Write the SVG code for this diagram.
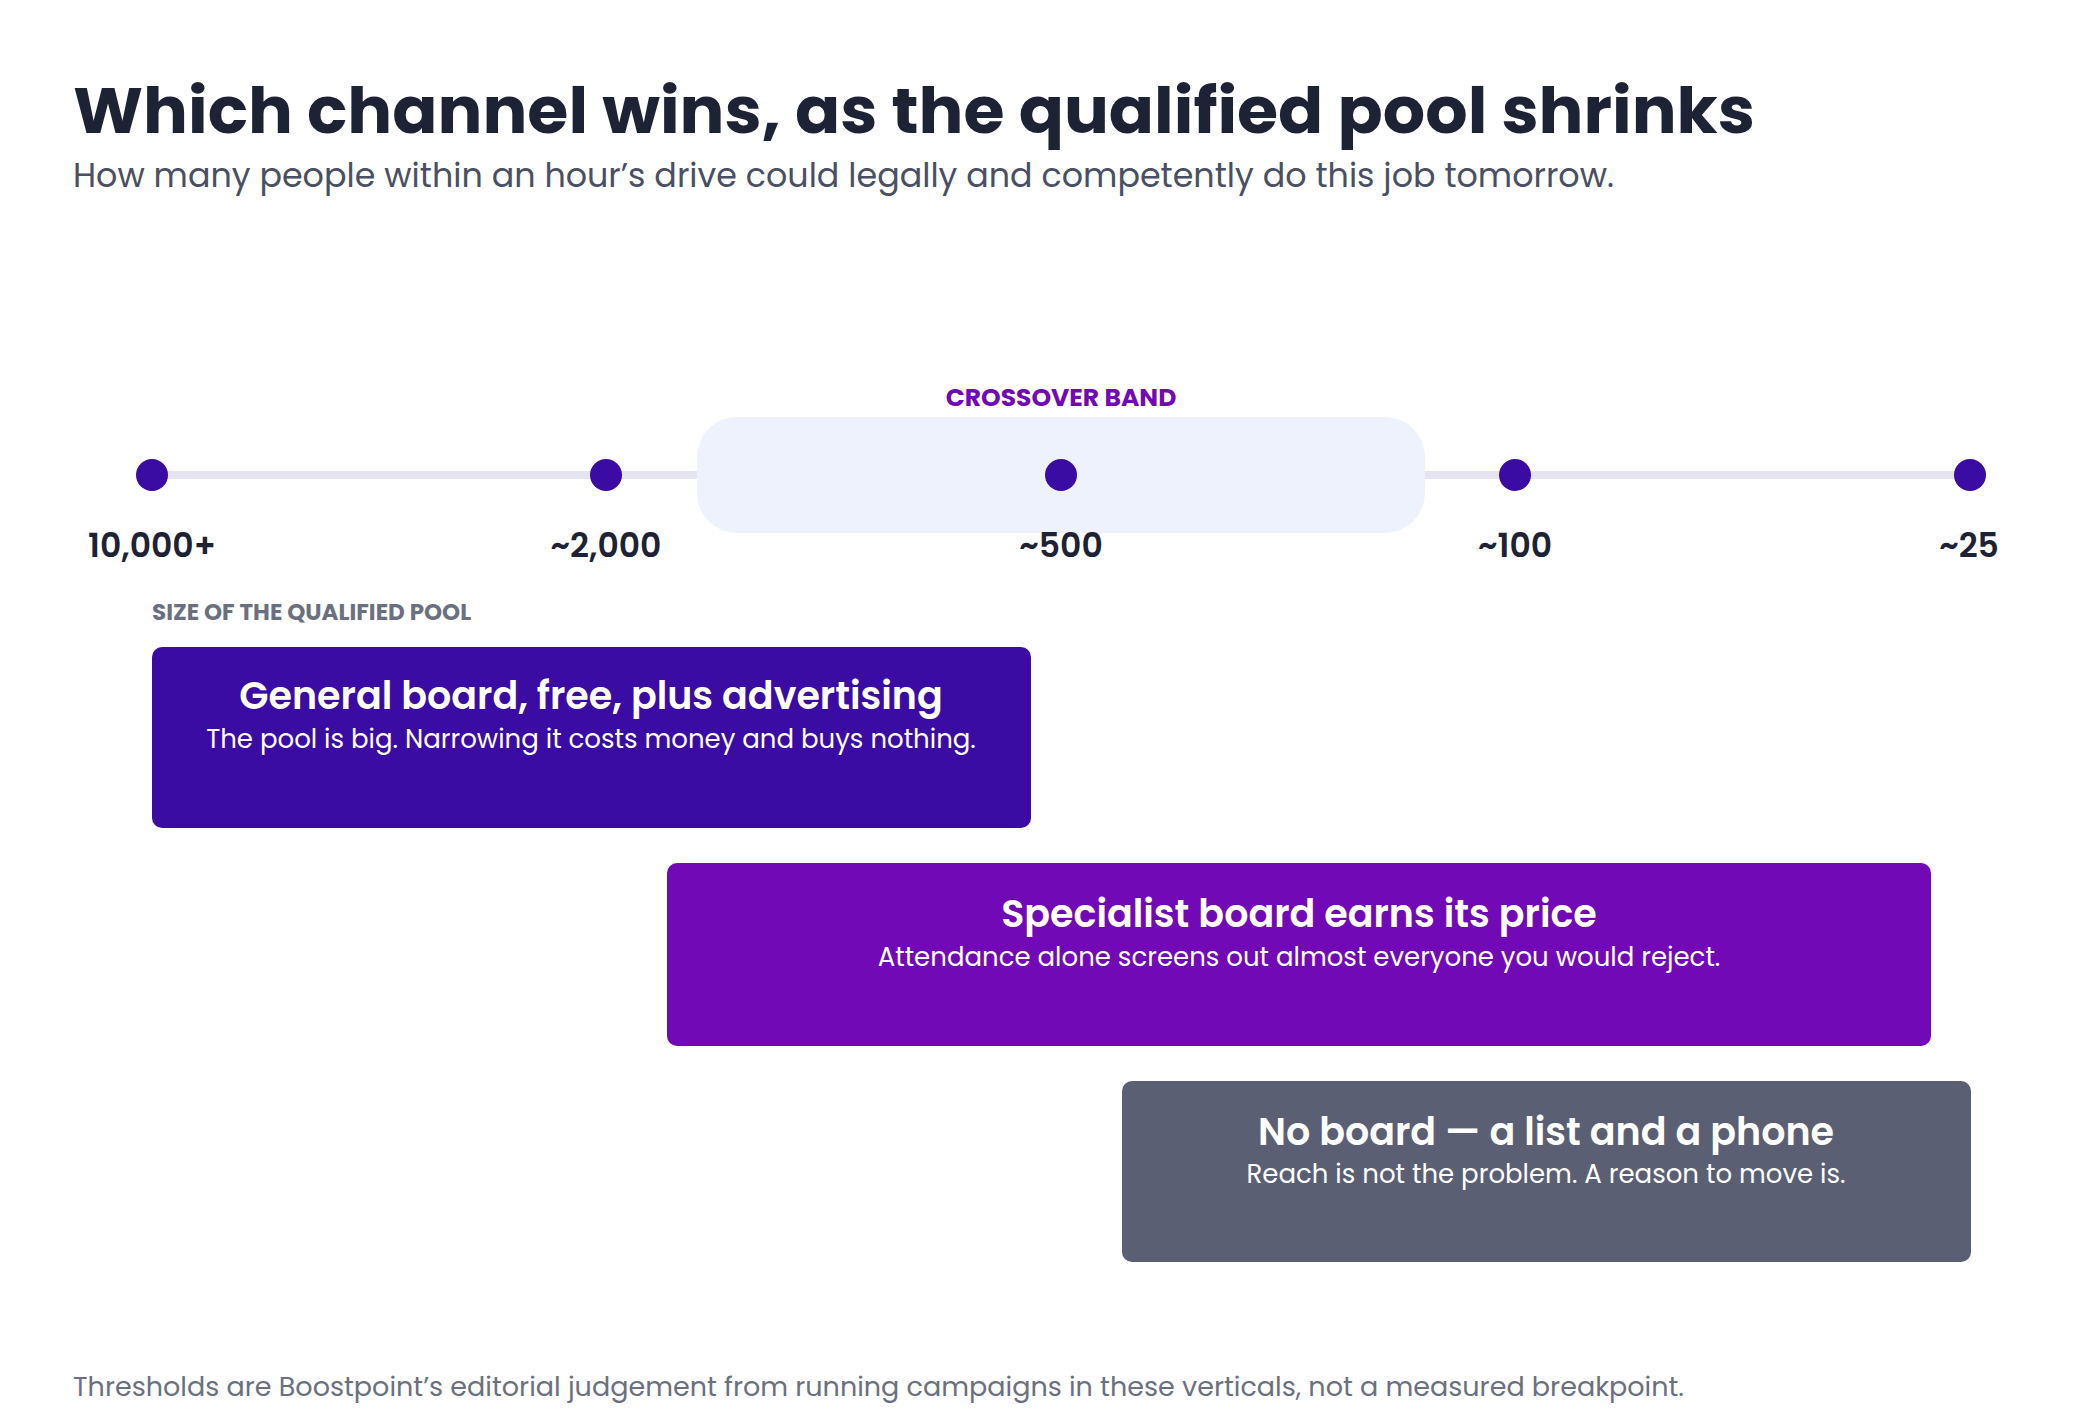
<svg xmlns="http://www.w3.org/2000/svg" width="2100" height="1420" viewBox="0 0 2100 1420">
<style>
text{font-family:Poppins,Inter,"Noto Sans",sans-serif}
.tick{font-size:33px;font-weight:600;fill:#1e2235;text-anchor:middle}
.dot{fill:#3a0ca3}
.bt{font-size:38px;font-weight:600;fill:#fff;text-anchor:middle}
.bs{font-size:26px;fill:#fff;text-anchor:middle}
</style>
<rect width="2100" height="1420" fill="#fff"/>
<g id="header">
<text x="73" y="133" font-size="64" font-weight="700" fill="#1e2235" textLength="1682" lengthAdjust="spacingAndGlyphs">Which channel wins, as the qualified pool shrinks</text>
<text x="73" y="187" font-size="33" fill="#4a4f63" textLength="1541" lengthAdjust="spacingAndGlyphs">How many people within an hour’s drive could legally and competently do this job tomorrow.</text>
</g>
<g id="connectors">
<line x1="152" y1="475" x2="1970" y2="475" stroke="#e6e4f0" stroke-width="8"/>
</g>
<g id="band">
<rect x="697" y="417" width="728" height="116" rx="40" fill="#eef2fd"/>
<text x="1061" y="406" font-size="25" font-weight="700" fill="#7209b7" text-anchor="middle">CROSSOVER BAND</text>
</g>
<g id="ticks">
<circle class="dot" cx="152" cy="475" r="16"/>
<circle class="dot" cx="606" cy="475" r="16"/>
<circle class="dot" cx="1061" cy="475" r="16"/>
<circle class="dot" cx="1515" cy="475" r="16"/>
<circle class="dot" cx="1970" cy="475" r="16"/>
<text class="tick" x="152" y="557">10,000+</text>
<text class="tick" x="606" y="557">~2,000</text>
<text class="tick" x="1061" y="557">~500</text>
<text class="tick" x="1515" y="557">~100</text>
<text class="tick" x="1969" y="557">~25</text>
<text x="152" y="620" font-size="23" font-weight="700" fill="#6b7080">SIZE OF THE QUALIFIED POOL</text>
</g>
<g id="general">
<rect x="152" y="647" width="879" height="181" rx="10" fill="#3a0ca3"/>
<text class="bt" x="591" y="709">General board, free, plus advertising</text>
<text class="bs" x="591" y="748">The pool is big. Narrowing it costs money and buys nothing.</text>
</g>
<g id="specialist">
<rect x="667" y="863" width="1264" height="183" rx="10" fill="#7209b7"/>
<text class="bt" x="1299" y="927">Specialist board earns its price</text>
<text class="bs" x="1299" y="966">Attendance alone screens out almost everyone you would reject.</text>
</g>
<g id="noboard">
<rect x="1122" y="1081" width="849" height="181" rx="10" fill="#5b5f74"/>
<text class="bt" x="1546" y="1145">No board — a list and a phone</text>
<text class="bs" x="1546" y="1183">Reach is not the problem. A reason to move is.</text>
</g>
<text x="73" y="1396" font-size="27" fill="#6b7080">Thresholds are Boostpoint’s editorial judgement from running campaigns in these verticals, not a measured breakpoint.</text>
</svg>
